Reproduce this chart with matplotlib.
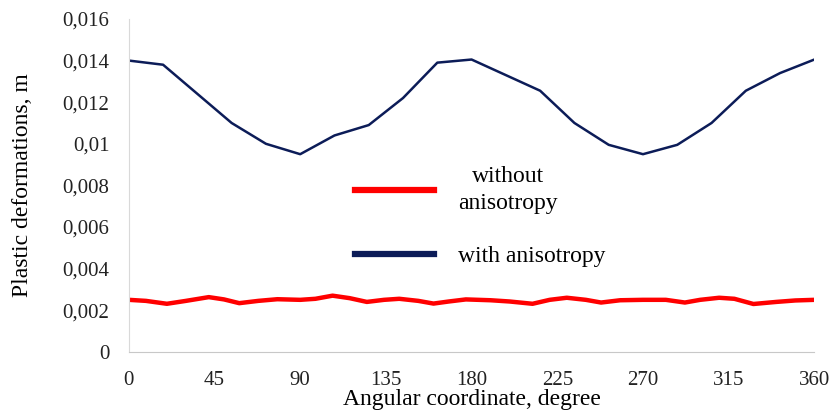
import matplotlib
matplotlib.use('Agg')
from matplotlib import pyplot as plt
from matplotlib.lines import Line2D

# blue: with anisotropy, read every 18 degrees
blue_x = [0, 18, 36, 54, 72, 90, 108, 126, 144, 162, 180, 198, 216, 234, 252, 270, 288, 306, 324, 342, 360]
blue_y = [0.0140, 0.0138, 0.0124, 0.0110, 0.0100, 0.0095, 0.0104, 0.0109, 0.0122, 0.0139, 0.01405,
          0.0133, 0.01255, 0.0110, 0.00995, 0.0095, 0.00995, 0.0110, 0.01255, 0.0134, 0.01405]

# red: without anisotropy, read at the wiggles
red_x = [0, 9, 20, 30, 42, 50, 58, 68, 78, 90, 98, 107, 116, 125, 134, 142, 152, 160, 168, 177,
         190, 200, 212, 221, 230, 240, 248, 258, 270, 282, 292, 300, 310, 318, 328, 340, 350, 360]
red_y = [0.00250, 0.00245, 0.00231, 0.00245, 0.00263, 0.00252, 0.00234, 0.00245, 0.00253, 0.00250,
         0.00255, 0.00270, 0.00258, 0.00240, 0.00250, 0.00255, 0.00245, 0.00232, 0.00242, 0.00252,
         0.00248, 0.00242, 0.00231, 0.00250, 0.00260, 0.00250, 0.00237, 0.00248, 0.00250, 0.00250,
         0.00237, 0.00250, 0.00260, 0.00255, 0.00230, 0.00240, 0.00247, 0.00250]

x_ticks = [0, 45, 90, 135, 180, 225, 270, 315, 360]
y_ticks = [0, 0.002, 0.004, 0.006, 0.008, 0.010, 0.012, 0.014, 0.016]
y_labels = ['0', '0,002', '0,004', '0,006', '0,008', '0,01', '0,012', '0,014', '0,016']

red = '#ff0000'
navy = '#0c1c58'

plt.rcParams['font.family'] = 'Liberation Serif'

fig = plt.figure(figsize=(8.31, 4.12), dpi=100)
ax = fig.add_axes([0.155, 0.146, 0.825, 0.808])

ax.plot(red_x, red_y, color=red, lw=3.2, solid_capstyle='round', solid_joinstyle='round')
ax.plot(blue_x, blue_y, color=navy, lw=1.8, solid_joinstyle='round')

ax.set_xlim(0, 360)
ax.set_ylim(0, 0.016)
ax.set_xticks(x_ticks)
ax.set_xticklabels([str(v) for v in x_ticks])
ax.set_yticks(y_ticks)
ax.set_yticklabels(y_labels)
ax.tick_params(length=0, labelsize=15, colors='#222222')
ax.tick_params(axis='y', pad=14)
ax.tick_params(axis='x', pad=14)

for s in ['top', 'right']:
    ax.spines[s].set_visible(False)
ax.spines['left'].set_color('#d9d9d9')
ax.spines['bottom'].set_color('#c8c8c8')

ax.set_xlabel('Angular coordinate, degree', fontsize=17)
ax.xaxis.set_label_coords(0.5, -0.112)
ax.set_ylabel('Plastic deformations, m', fontsize=17)
ax.yaxis.set_label_coords(-0.14, 0.5)

handles = [Line2D([], [], color=red, lw=4.5), Line2D([], [], color=navy, lw=4.5)]
leg = ax.legend(handles, ['without\nanisotropy', 'with anisotropy'], frameon=False,
                fontsize=17, handlelength=3.35, handletextpad=1.0, labelspacing=1.35,
                loc='upper left', bbox_to_anchor=(0.299, 0.622))
leg.get_texts()[0].set_multialignment('center')
leg.get_texts()[0].set_linespacing(1.35)

fig.savefig('out.png', dpi=100)
